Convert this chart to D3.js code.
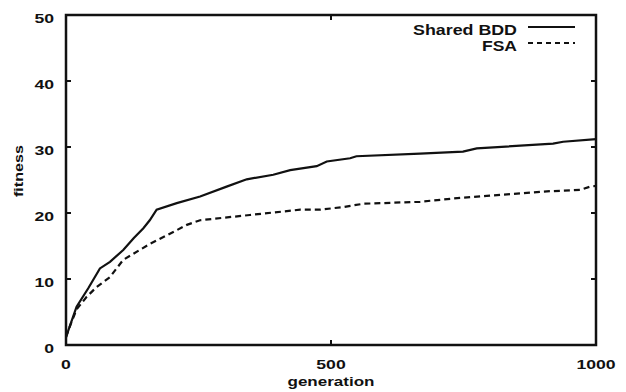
<!DOCTYPE html>
<html>
<head>
<meta charset="utf-8">
<script src="https://cdn.jsdelivr.net/npm/d3@7"></script>
<style>
  body { margin: 0; background: #fff; }
  text { font-family: "Liberation Sans", Arial, sans-serif; font-weight: bold; fill: #111; }
</style>
</head>
<body>
<div id="chart"></div>
<script>
// values
const bddGen     = [0, 10, 20, 42, 64, 83, 108, 128, 146, 158, 171, 209, 253, 303, 341, 391, 423, 473, 492, 536, 548, 668, 749, 775, 919, 938, 1000]
const bddFitness = [1.2, 3.5, 5.8, 8.6, 11.6, 12.6, 14.4, 16.2, 17.7, 18.9, 20.5, 21.5, 22.5, 24.0, 25.1, 25.8, 26.5, 27.1, 27.8, 28.3, 28.6, 29.0, 29.3, 29.8, 30.5, 30.8, 31.2]
const fsaGen     = [0, 10, 20, 39, 58, 83, 108, 158, 209, 228, 253, 347, 442, 479, 523, 561, 668, 731, 794, 913, 970, 989, 1000]
const fsaFitness = [1.2, 3.4, 5.4, 7.3, 8.8, 10.3, 12.9, 15.3, 17.4, 18.2, 18.9, 19.7, 20.5, 20.5, 20.9, 21.4, 21.7, 22.2, 22.6, 23.3, 23.5, 24.0, 24.1]
const xTicks = [0, 500, 1000]
const yTicks = [0, 10, 20, 30, 40, 50]
const seriesNames = ['Shared BDD', 'FSA']

const width = 626, height = 392
const plot = { left: 66, right: 596, top: 15, bottom: 345 }
const digitWidth = 9.8 // the scanned labels are stretched sideways

const svg = d3.select('#chart').append('svg')
  .attr('width', width)
  .attr('height', height)

const x = d3.scaleLinear().domain([0, 1000]).range([plot.left, plot.right])
const y = d3.scaleLinear().domain([0, 50]).range([plot.bottom, plot.top])

// frame
svg.append('rect')
  .attr('x', plot.left).attr('y', plot.top)
  .attr('width', plot.right - plot.left)
  .attr('height', plot.bottom - plot.top)
  .attr('fill', 'none').attr('stroke', '#111').attr('stroke-width', 2.5)

// inward ticks on all four sides (gnuplot style)
const tickLen = 5
yTicks.slice(1, -1).forEach(t => {
  svg.append('line').attr('x1', plot.left).attr('x2', plot.left + tickLen)
    .attr('y1', y(t)).attr('y2', y(t)).attr('stroke', '#111').attr('stroke-width', 2)
  svg.append('line').attr('x1', plot.right).attr('x2', plot.right - tickLen)
    .attr('y1', y(t)).attr('y2', y(t)).attr('stroke', '#111').attr('stroke-width', 2)
})
xTicks.slice(1, -1).forEach(t => {
  svg.append('line').attr('x1', x(t)).attr('x2', x(t))
    .attr('y1', plot.bottom).attr('y2', plot.bottom - tickLen).attr('stroke', '#111').attr('stroke-width', 2)
  svg.append('line').attr('x1', x(t)).attr('x2', x(t))
    .attr('y1', plot.top).attr('y2', plot.top + tickLen).attr('stroke', '#111').attr('stroke-width', 2)
})

// tick labels
svg.selectAll('text.ylab')
  .data(yTicks)
  .enter()
  .append('text')
    .attr('class', 'ylab')
    .attr('x', plot.left - 12)
    .attr('y', d => y(d) + 8)
    .attr('text-anchor', 'end')
    .attr('font-size', 13)
    .attr('textLength', d => String(d).length * digitWidth)
    .attr('lengthAdjust', 'spacingAndGlyphs')
    .text(d => d)

svg.selectAll('text.xlab')
  .data(xTicks)
  .enter()
  .append('text')
    .attr('class', 'xlab')
    .attr('x', d => x(d))
    .attr('y', 369)
    .attr('text-anchor', 'middle')
    .attr('font-size', 13)
    .attr('textLength', d => String(d).length * digitWidth)
    .attr('lengthAdjust', 'spacingAndGlyphs')
    .text(d => d)

// axis titles
svg.append('text')
  .attr('x', x(500)).attr('y', 386)
  .attr('text-anchor', 'middle').attr('font-size', 12)
  .attr('textLength', 87).attr('lengthAdjust', 'spacingAndGlyphs')
  .text('generation')

svg.append('text')
  .attr('transform', `translate(23, 171) rotate(-90)`)
  .attr('text-anchor', 'middle').attr('font-size', 13)
  .attr('textLength', 52).attr('lengthAdjust', 'spacingAndGlyphs')
  .text('fitness')

// curves
const line = d3.line().x(d => x(d[0])).y(d => y(d[1]))
const bdd = bddGen.map((g, i) => [g, bddFitness[i]])
const fsa = fsaGen.map((g, i) => [g, fsaFitness[i]])

svg.append('path').datum(bdd)
  .attr('d', line)
  .attr('fill', 'none').attr('stroke', '#111').attr('stroke-width', 2.2)

svg.append('path').datum(fsa)
  .attr('d', line)
  .attr('fill', 'none').attr('stroke', '#111').attr('stroke-width', 2.2)
  .attr('stroke-dasharray', '6,4')

// legend
const legend = svg.append('g')
const dashes = [null, '5,4']
const legendWidths = [104, 35]
seriesNames.forEach((name, i) => {
  const ly = 27 + i * 16
  legend.append('text')
    .attr('x', 517).attr('y', ly + 8)
    .attr('text-anchor', 'end').attr('font-size', 14)
    .attr('textLength', legendWidths[i]).attr('lengthAdjust', 'spacingAndGlyphs')
    .text(name)
  legend.append('line')
    .attr('x1', 528).attr('x2', 575)
    .attr('y1', ly).attr('y2', ly)
    .attr('stroke', '#111').attr('stroke-width', 1.8)
    .attr('stroke-dasharray', dashes[i])
})
</script>
</body>
</html>
